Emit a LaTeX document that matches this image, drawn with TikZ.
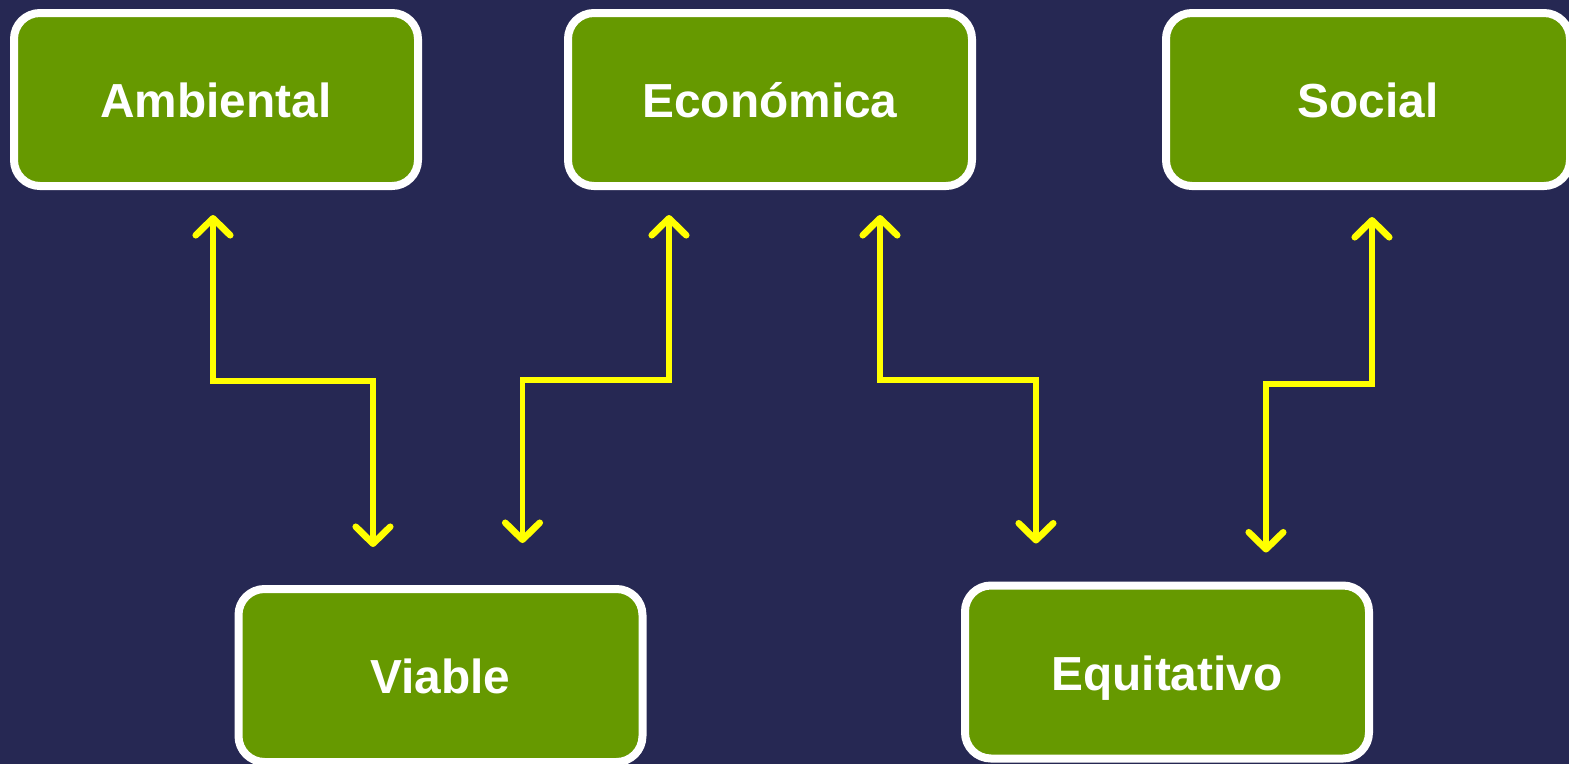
\documentclass[tikz,border=0pt]{standalone}
\usepackage{fontspec}
\setmainfont{Liberation Sans}
\usetikzlibrary{arrows.meta,shadows}
\definecolor{bgnavy}{HTML}{262853}
\definecolor{boxgreen}{HTML}{669900}
\definecolor{linkyellow}{HTML}{FFFF00}
\tikzset{pillar/.style={draw=white, fill=boxgreen, line width=0.08cm, rounded corners=0.26cm,
           minimum width=4.04cm, minimum height=1.73cm, text=white,
           text height=10.5pt, text depth=0pt,
           font=\fontsize{13.6}{16}\selectfont\bfseries,
           drop shadow={shadow xshift=0.02cm, shadow yshift=-0.03cm, opacity=0.35, fill=black}},
         barb/.tip={Straight Barb[length=4.8pt,width=9.8pt,line width=1.9pt,round]},
         link/.style={linkyellow, line width=0.055cm, {barb}-{barb}}}

\begin{document}
\begin{tikzpicture}
  \useasboundingbox (0,0) rectangle (15.69,-7.64);
  \clip (0,0) rectangle (15.69,-7.64);
  \fill[bgnavy] (0,0) rectangle (15.69,-7.64);

  \node[pillar] (amb) at ( 2.16,-0.995) {Ambiental};
  \node[pillar] (eco) at ( 7.70,-0.995) {Económica};
  \node[pillar] (soc) at (13.68,-0.995) {Social};
  \node[pillar] (via) at ( 4.405,-6.755) {Viable};
  \node[pillar] (equ) at (11.67,-6.72) {Equitativo};

  \draw[link, shorten <=0.25cm, shorten >=0.38cm] ([xshift=-0.03cm]amb.south) -- ++(0,-1.91) -| ([xshift=-0.675cm]via.north);
  \draw[link, shorten <=0.25cm, shorten >=0.42cm] ([xshift=-1.01cm]eco.south) -- ++(0,-1.90) -| ([xshift=0.82cm]via.north);
  \draw[link, shorten <=0.25cm, shorten >=0.38cm] ([xshift=1.10cm]eco.south) -- ++(0,-1.90) -| ([xshift=-1.31cm]equ.north);
  \draw[link, shorten <=0.27cm, shorten >=0.29cm] ([xshift=0.04cm]soc.south) -- ++(0,-1.94) -| ([xshift=0.99cm]equ.north);
\end{tikzpicture}
\end{document}
